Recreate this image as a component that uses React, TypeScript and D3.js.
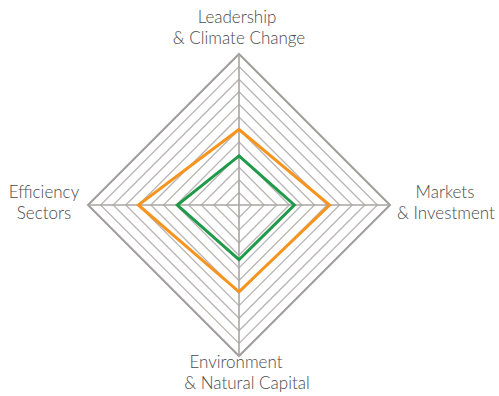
import React, { useEffect, useRef } from 'react';
import * as d3 from 'd3';

// axes clockwise from the top
const axes = ['Leadership & Climate Change', 'Markets & Investment', 'Environment & Natural Capital', 'Efficiency Sectors'];
const levels = 12;
const orangeValues = [6.0, 7.2, 6.9, 8.0];
const greenValues = [3.9, 4.4, 4.35, 4.9];

const labelLines = [
  ['Leadership', '& Climate Change'],
  ['Markets', '& Investment'],
  ['Environment', '& Natural Capital'],
  ['Efficiency', 'Sectors'],
];

const App = () => {
  const svgRef = useRef<SVGSVGElement>(null);

  useEffect(() => {
    if (!svgRef.current) return;
    const svg = d3.select(svgRef.current);
    svg.selectAll('*').remove();

    const cx = 239;
    const cy = 205;
    const radius = 151;

    const r = d3.scaleLinear().domain([0, levels]).range([0, radius]);
    const angle = d3.scaleLinear().domain([0, axes.length]).range([0, 2 * Math.PI]);

    const g = svg.append('g').attr('transform', `translate(${cx},${cy})`);

    const radar = d3.lineRadial<number>()
      .angle((d, i) => angle(i))
      .radius(d => r(d))
      .curve(d3.curveLinearClosed);

    // grid rings
    const rings = d3.range(1, levels + 1);
    g.append('g')
      .selectAll('path')
      .data(rings)
      .enter()
      .append('path')
      .attr('d', d => radar(axes.map(() => d)))
      .attr('fill', 'none')
      .attr('stroke', d => (d === levels ? '#a19d9c' : '#b9b5b4'))
      .attr('stroke-width', d => (d === levels ? 2 : 1.3));

    // spokes
    g.append('g')
      .selectAll('line')
      .data(axes)
      .enter()
      .append('line')
      .attr('x1', 0)
      .attr('y1', 0)
      .attr('x2', (d, i) => r(levels) * Math.sin(angle(i)))
      .attr('y2', (d, i) => -r(levels) * Math.cos(angle(i)))
      .attr('stroke', '#a8a4a3')
      .attr('stroke-width', 1.6);

    // series
    g.append('path')
      .attr('d', radar(orangeValues))
      .attr('fill', 'none')
      .attr('stroke', '#f7941e')
      .attr('stroke-width', 3)
      .attr('stroke-linejoin', 'miter');

    g.append('path')
      .attr('d', radar(greenValues))
      .attr('fill', 'none')
      .attr('stroke', '#1f9a48')
      .attr('stroke-width', 3)
      .attr('stroke-linejoin', 'miter');

    // labels
    const labelPos = [
      { x: 0, y: -182, dx: [-2, 0] },
      { x: 207, y: -7, dx: [-1, 0] },
      { x: 0, y: 163, dx: [-3, 8] },
      { x: -195, y: -7, dx: [0, 0] },
    ];

    labelLines.forEach((lines, i) => {
      const p = labelPos[i];
      const t = g.append('text')
        .attr('text-anchor', 'middle')
        .attr('fill', '#4a4a4a')
        .style('font-family', 'Lato, "Open Sans", sans-serif')
        .style('font-weight', 300)
        .style('font-size', '17px');
      lines.forEach((line, j) => {
        t.append('tspan')
          .attr('x', p.x + p.dx[j])
          .attr('y', p.y + j * 21)
          .text(line);
      });
    });
  }, []);

  return (
    <svg
      ref={svgRef}
      width={499}
      height={396}
      style={{ position: 'absolute', left: 0, top: 0, background: '#fff' }}
    />
  );
};

export default App;
